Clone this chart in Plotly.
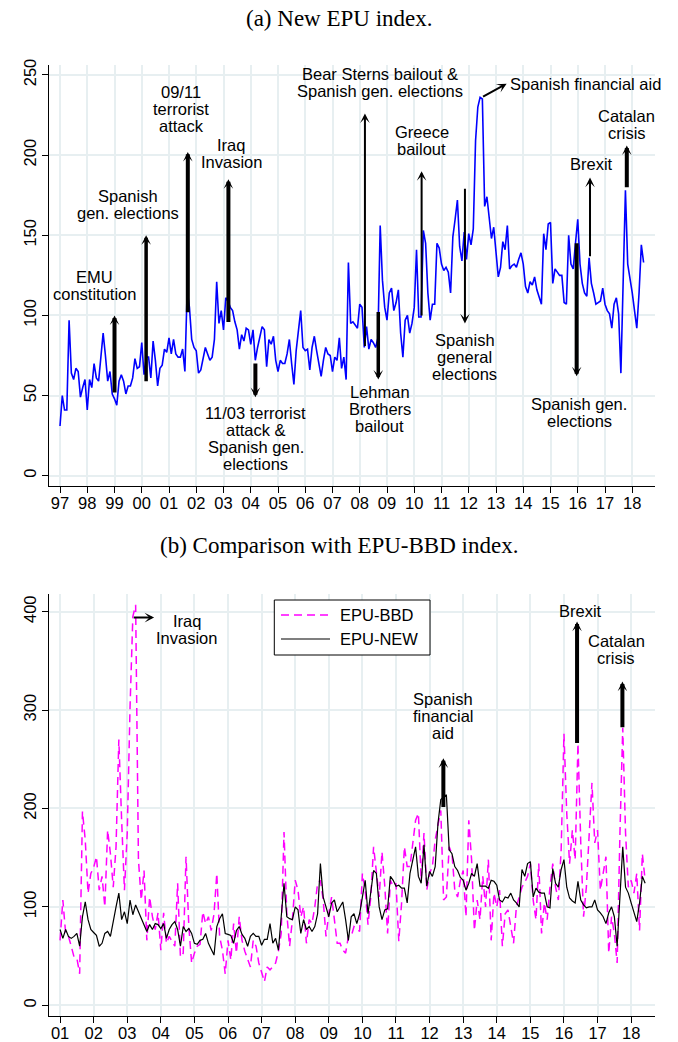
import plotly.graph_objects as go

W, H = 678, 1042

# ---------------- DATA ----------------
# (a) New EPU index, monthly, Jan 1997 - Jun 2018
epu_new = [
    31, 50, 41, 41, 97, 64, 60, 67, 65, 49, 55, 60,        # 1997
    41, 60, 55, 70, 61, 59, 74, 89, 75, 59, 65, 51,        # 1998
    48, 44, 59, 63, 59, 51, 56, 56, 61, 73, 67, 68,        # 1999
    83, 63, 74, 74, 61, 84, 72, 56, 67, 69, 79, 77,        # 2000
    86, 76, 85, 76, 74, 74, 79, 65, 116, 105, 85, 80,      # 2001
    78, 64, 66, 72, 80, 76, 72, 74, 85, 121, 95, 103,      # 2002
    91, 111, 109, 105, 103, 96, 91, 79, 88, 84, 92, 91,    # 2003
    82, 91, 72, 80, 86, 93, 91, 68, 85, 82, 87, 72,        # 2004
    65, 72, 70, 70, 76, 85, 70, 57, 78, 89, 103, 80,       # 2005
    78, 79, 66, 80, 87, 78, 70, 62, 72, 80, 76, 75,        # 2006
    65, 74, 72, 86, 67, 74, 60, 133, 95, 96, 94, 92,       # 2007
    107, 105, 80, 93, 79, 85, 83, 80, 86, 156, 122, 105,   # 2008
    97, 114, 117, 103, 108, 116, 89, 74, 97, 100, 89, 95,  # 2009
    105, 141, 99, 99, 153, 145, 114, 97, 107, 107, 145, 142,   # 2010
    132, 128, 130, 127, 114, 149, 160, 172, 143, 134, 152, 135,  # 2011
    151, 144, 154, 209, 230, 236, 235, 168, 174, 161, 148, 155,  # 2012
    138, 124, 130, 146, 141, 156, 129, 131, 132, 130, 135, 139,  # 2013
    132, 118, 114, 121, 119, 124, 116, 112, 107, 151, 141, 157,  # 2014
    158, 120, 129, 127, 125, 125, 108, 107, 150, 132, 129, 145,  # 2015
    160, 132, 120, 114, 112, 136, 120, 114, 107, 108, 109, 117,  # 2016
    107, 103, 101, 92, 107, 111, 101, 64, 120, 178, 132, 124,    # 2017
    114, 103, 92, 114, 144, 133,                                  # 2018
]

# (b) EPU-BBD index, monthly, Jan 2001 - Jun 2018
epu_bbd = [
    66, 107, 73, 70, 60, 49, 48, 32, 197, 168, 114, 134,       # 2001
    140, 151, 117, 131, 100, 178, 154, 120, 161, 270, 188, 117,  # 2002
    175, 303, 395, 407, 148, 107, 137, 66, 110, 90, 77, 94,     # 2003
    56, 94, 63, 70, 65, 60, 124, 49, 53, 151, 80, 43,           # 2004
    53, 60, 62, 95, 83, 90, 76, 93, 134, 70, 56, 32,            # 2005
    66, 46, 83, 53, 90, 66, 55, 46, 39, 66, 60, 43,             # 2006
    32, 24, 39, 36, 39, 43, 55, 73, 176, 93, 60, 87,            # 2007
    127, 117, 90, 100, 63, 87, 83, 100, 124, 127, 107, 70,      # 2008
    93, 110, 87, 63, 63, 56, 53, 70, 70, 80, 78, 75,            # 2009
    134, 117, 82, 110, 161, 134, 110, 156, 121, 73, 127, 121,   # 2010
    124, 65, 104, 161, 141, 141, 165, 188, 195, 127, 175, 117,  # 2011
    134, 141, 168, 182, 198, 107, 110, 161, 154, 117, 110, 127, # 2012
    137, 90, 188, 148, 76, 107, 87, 131, 100, 148, 66, 114,     # 2013
    100, 117, 60, 93, 97, 80, 63, 100, 110, 120, 125, 131,      # 2014
    144, 107, 87, 144, 73, 104, 87, 120, 144, 120, 107, 158,    # 2015
    276, 195, 144, 178, 148, 266, 165, 90, 120, 168, 226, 165,  # 2016
    178, 117, 134, 151, 53, 90, 73, 43, 175, 282, 175, 120,     # 2017
    127, 114, 134, 76, 154, 127,                                # 2018
]

# (b) EPU-NEW index (re-based), monthly, Jan 2001 - Jun 2018
epu_new_b = [
    77, 68, 77, 70, 68, 70, 73, 60, 90, 105, 87, 77,           # 2001
    74, 71, 60, 63, 73, 75, 70, 87, 100, 114, 87, 95,          # 2002
    83, 107, 92, 102, 95, 87, 80, 75, 82, 77, 83, 82,          # 2003
    78, 83, 68, 77, 82, 85, 77, 60, 80, 75, 78, 73,            # 2004
    63, 62, 66, 67, 73, 63, 57, 51, 80, 88, 93, 73,            # 2005
    72, 71, 63, 76, 80, 72, 68, 60, 70, 73, 70, 70,            # 2006
    61, 67, 67, 83, 63, 68, 56, 93, 124, 90, 88, 87,           # 2007
    100, 97, 73, 87, 77, 80, 75, 80, 93, 144, 110, 100,        # 2008
    90, 104, 107, 95, 100, 105, 87, 66, 90, 93, 83, 93,        # 2009
    110, 127, 93, 114, 137, 134, 100, 87, 97, 98, 131, 127,    # 2010
    121, 122, 119, 119, 104, 134, 148, 161, 131, 124, 163, 121,  # 2011
    136, 131, 141, 185, 209, 212, 214, 158, 154, 141, 137, 130,  # 2012
    127, 117, 124, 134, 131, 144, 121, 121, 121, 119, 127, 126,  # 2013
    122, 107, 105, 110, 109, 114, 107, 104, 100, 138, 131, 144,  # 2014
    146, 110, 119, 115, 114, 114, 100, 99, 139, 124, 120, 138,   # 2015
    148, 120, 109, 106, 104, 126, 107, 102, 99, 100, 100, 107,   # 2016
    97, 94, 90, 83, 94, 100, 90, 60, 110, 161, 120, 114,         # 2017
    104, 95, 85, 104, 131, 124,                                  # 2018
]

series_names = ["EPU-BBD", "EPU-NEW"]

top_start_year = 1997
bot_start_year = 2001
top_years = list(range(1997, 2019))
bot_years = list(range(2001, 2019))
top_yticks = [0, 50, 100, 150, 200, 250]
bot_yticks = [0, 100, 200, 300, 400]

# events (a): label lines, label x (year), first-line y, arrow x, arrow tail y, arrow head y, arrow width
events_top = [
    (["EMU", "constitution"], 1998.28, 124.0, 1999.0, 51, 100, 4),
    (["Spanish", "gen. elections"], 1999.48, 174.3, 2000.16, 58, 150, 3.5),
    (["09/11", "terrorist", "attack"], 2001.44, 239.3, 2001.69, 101, 202, 4),
    (["Iraq", "Invasion"], 2003.28, 206.5, 2003.18, 95, 185, 4),
    (["11/03 terrorist", "attack &", "Spanish gen.", "elections"], 2004.19, 38.9, 2004.17, 71, 49, 4),
    (["Bear Sterns bailout &", "Spanish gen. elections"], 2008.74, 250.7, 2008.19, 80, 226, 2),
    (["Lehman", "Brothers", "bailout"], 2008.74, 52.3, 2008.68, 103, 60, 3.5),
    (["Greece", "bailout"], 2010.27, 214.3, 2010.27, 99, 190, 2),
    (["Spanish", "general", "elections"], 2011.86, 84.5, 2011.86, 180, 95, 2),
    (["Spanish gen.", "elections"], 2016.06, 44.5, 2015.96, 146, 62, 4),
    (["Brexit"], 2016.51, 194.2, 2016.45, 136, 186, 2),
    (["Catalan", "crisis"], 2017.80, 224.3, 2017.80, 179, 206, 4),
]
# events (b)
events_bot = [
    (["Spanish", "financial", "aid"], 2012.41, 311.0, 2012.41, 200, 251, 4),
    (["Brexit"], 2016.48, 400.7, 2016.39, 265, 390, 4),
    (["Catalan", "crisis"], 2017.55, 370.5, 2017.74, 281, 329, 4),
]

# ---------------- FIGURE ----------------
SANS = "Liberation Sans, Arial, Helvetica, sans-serif"
SERIF = "Liberation Serif, Times New Roman, serif"
FS = 16.5
BBD_COLOR, BBD_DASH = "#ff00ff", "8px,5px"
NEW_COLOR = "black"

x_top = [top_start_year + i / 12 for i in range(len(epu_new))]
x_bot = [bot_start_year + i / 12 for i in range(len(epu_bbd))]

fig = go.Figure()
fig.add_trace(go.Scatter(x=x_top, y=epu_new, mode="lines", line=dict(color="#0000ff", width=1.6),
                         showlegend=False, xaxis="x", yaxis="y"))
fig.add_trace(go.Scatter(x=x_bot, y=epu_bbd, mode="lines", name=series_names[0], showlegend=False,
                         line=dict(color=BBD_COLOR, width=1.5, dash=BBD_DASH), xaxis="x2", yaxis="y2"))
fig.add_trace(go.Scatter(x=x_bot, y=epu_new_b, mode="lines", name=series_names[1], showlegend=False,
                         line=dict(color=NEW_COLOR, width=1.2), xaxis="x2", yaxis="y2"))

xl, xr = 49.3 / W, 655 / W
axis_common = dict(showline=True, linecolor="black", linewidth=1.3, ticks="outside", ticklen=6,
                   tickcolor="black", tickwidth=1.2, showgrid=True, gridcolor="#e7eff1", gridwidth=1.6,
                   zeroline=False, tickfont=dict(family=SANS, size=FS, color="black"), automargin=False)

fig.update_layout(
    width=W, height=H, margin=dict(l=0, r=0, t=0, b=0),
    paper_bgcolor="white", plot_bgcolor="white", showlegend=False,
    xaxis=dict(domain=[xl, xr], range=[1996.607, 2018.835], anchor="y", ticklabelstandoff=-4,
               tickvals=top_years, ticktext=[f"{y % 100:02d}" for y in top_years], **axis_common),
    yaxis=dict(domain=[1 - 486 / H, 1 - 65 / H], range=[-6.4, 256.2], anchor="x",
               tickvals=top_yticks, tickangle=-90, **axis_common),
    xaxis2=dict(domain=[xl, xr], range=[2000.68, 2018.71], anchor="y2", ticklabelstandoff=-4,
                tickvals=bot_years, ticktext=[f"{y % 100:02d}" for y in bot_years], **axis_common),
    yaxis2=dict(domain=[1 - 1016 / H, 1 - 594 / H], range=[-10.9, 418], anchor="x2",
                tickvals=bot_yticks, tickangle=-90, **axis_common),
)

# Legend box (panel b), drawn in paper coordinates
def px(xp):
    return xp / W


def py(yp):
    return 1 - yp / H


fig.add_shape(type="rect", xref="paper", yref="paper", x0=px(274.3), x1=px(430), y0=py(655), y1=py(600),
              line=dict(color="black", width=1), fillcolor="white", layer="above")
for k, (nm, col, dash, wd) in enumerate([(series_names[0], BBD_COLOR, BBD_DASH, 1.5),
                                          (series_names[1], NEW_COLOR, "solid", 1.2)]):
    yy = 615 + 24 * k
    fig.add_shape(type="line", xref="paper", yref="paper", x0=px(281), x1=px(330), y0=py(yy), y1=py(yy),
                  line=dict(color=col, width=wd, dash=dash), layer="above")
    fig.add_annotation(text=nm, x=px(338), y=py(yy), xref="paper", yref="paper", showarrow=False,
                       xanchor="left", yanchor="middle", font=dict(family=SANS, size=FS, color="black"))

# Titles
fig.add_annotation(text="(a) New EPU index.", x=0.5, y=1 - 18 / H, xref="paper", yref="paper",
                   showarrow=False, font=dict(family=SERIF, size=23, color="black"),
                   xanchor="center", yanchor="middle")
fig.add_annotation(text="(b) Comparison with EPU-BBD index.", x=0.5, y=1 - 545 / H, xref="paper", yref="paper",
                   showarrow=False, font=dict(family=SERIF, size=23, color="black"),
                   xanchor="center", yanchor="middle")


def add_arrow(xh, yh, xt, yt, w, xr_, yr_):
    size = 1.6 / w
    fig.add_annotation(x=xh, y=yh, ax=xt, ay=yt, xref=xr_, yref=yr_, axref=xr_, ayref=yr_,
                       text="", showarrow=True, arrowhead=3, arrowsize=size, arrowwidth=w,
                       arrowcolor="black", standoff=0)


def add_label(lines, x, y0, dy, xr_, yr_, anchor="center"):
    for k, line in enumerate(lines):
        fig.add_annotation(x=x, y=y0 - k * dy, xref=xr_, yref=yr_, text=line, showarrow=False,
                           font=dict(family=SANS, size=FS, color="black"),
                           xanchor=anchor, yanchor="middle")


dy_top = 17 / 1.605
dy_bot = 17 / 0.984

for lines, lx, ly, axx, tail, head, w in events_top:
    add_arrow(axx, head, axx, tail, w, "x", "y")
    add_label(lines, lx, ly, dy_top, "x", "y")

# Spanish financial aid (diagonal arrow)
add_arrow(2013.39, 244.5, 2012.47, 236, 2, "x", "y")
add_label(["Spanish financial aid"], 2013.45, 244.5, dy_top, "x", "y", anchor="left")

for lines, lx, ly, axx, tail, head, w in events_bot:
    add_arrow(axx, head, axx, tail, w, "x2", "y2")
    add_label(lines, lx, ly, dy_bot, "x2", "y2")

# Iraq invasion (horizontal arrow)
add_arrow(2003.80, 394, 2003.15, 394, 2, "x2", "y2")
add_label(["Iraq", "Invasion"], 2004.77, 390.5, dy_bot, "x2", "y2")

fig.write_html("out.html")
